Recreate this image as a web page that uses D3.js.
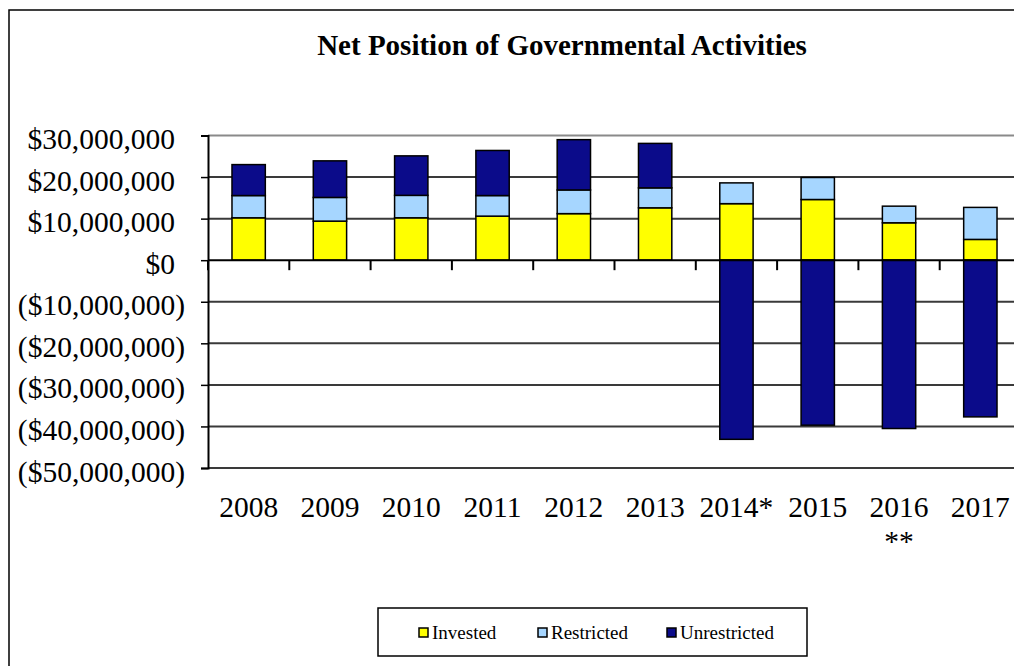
<!DOCTYPE html>
<html>
<head>
<meta charset="utf-8">
<script src="https://cdn.jsdelivr.net/npm/d3@7"></script>
<style>
  html, body { margin: 0; padding: 0; background: #fff; overflow: hidden; }
  svg { display: block; }
</style>
</head>
<body>
<svg id="chart" width="1014" height="666"></svg>
<script>
// ---- data (values in dollars) ----
const categories = ["2008", "2009", "2010", "2011", "2012", "2013", "2014*", "2015", "2016\n**", "2017"];
const invested     = [10.2e6, 9.4e6, 10.2e6, 10.6e6, 11.2e6, 12.6e6, 13.6e6, 14.6e6, 9.0e6, 5.0e6];
const restricted   = [5.35e6, 5.7e6, 5.4e6, 4.95e6, 5.7e6, 4.8e6, 5.0e6, 5.3e6, 4.0e6, 7.7e6];
const unrestricted = [7.45e6, 8.8e6, 9.5e6, 10.85e6, 12.1e6, 10.7e6, -43.1e6, -39.7e6, -40.5e6, -37.7e6];
const seriesNames  = ["Invested", "Restricted", "Unrestricted"];
const yTicks = [30e6, 20e6, 10e6, 0, -10e6, -20e6, -30e6, -40e6, -50e6];
const titleText = "Net Position of Governmental Activities";

const colors = { Invested: "#FFFF00", Restricted: "#A6D6FF", Unrestricted: "#0B0B8A" };
const SERIF = "'Liberation Serif', 'Times New Roman', 'DejaVu Serif', serif";

const rows = categories.map((c, i) => ({
  cat: c, Invested: invested[i], Restricted: restricted[i], Unrestricted: unrestricted[i]
}));

const svg = d3.select("#chart").attr("font-family", SERIF);

// outer border
svg.append("rect").attr("x", 9).attr("y", 10).attr("width", 1100).attr("height", 720)
  .attr("fill", "none").attr("stroke", "#000").attr("stroke-width", 1.5);

// title
svg.append("text").attr("x", 562).attr("y", 55).attr("text-anchor", "middle")
  .attr("font-family", SERIF)
  .attr("font-size", "29px").attr("font-weight", "bold").text(titleText);

const plotLeft = 208, plotRight = 1021, plotTop = 135.5, plotBottom = 468;

const x = d3.scaleBand().domain(categories).range([plotLeft, plotRight])
  .paddingInner(0.59).paddingOuter(0.295);
const y = d3.scaleLinear().domain([-50e6, 30e6]).range([plotBottom, plotTop]);

// gridlines
svg.append("g").selectAll("line").data(yTicks.filter(v => v !== 0)).join("line")
  .attr("x1", plotLeft).attr("x2", 1014)
  .attr("y1", d => y(d)).attr("y2", d => y(d))
  .attr("stroke", d => d === 30e6 ? "#8a8a8a" : "#3a3a3a")
  .attr("stroke-width", 2);

// stacked bars
const stack = d3.stack().keys(seriesNames).offset(d3.stackOffsetDiverging);
const stacked = stack(rows);
svg.append("g").selectAll("g").data(stacked).join("g")
  .attr("fill", d => colors[d.key])
  .selectAll("rect").data(d => d).join("rect")
  .attr("x", d => x(d.data.cat))
  .attr("width", x.bandwidth())
  .attr("y", d => y(Math.max(d[0], d[1])))
  .attr("height", d => Math.abs(y(d[0]) - y(d[1])))
  .attr("stroke", "#000").attr("stroke-width", 1.5);

// y axis
const fmt = d3.format(",");
const yAxis = d3.axisLeft(y).tickValues(yTicks).tickSize(7).tickPadding(0)
  .tickFormat(v => v < 0 ? "($" + fmt(-v) + ")" : "$" + fmt(v));
const yg = svg.append("g").attr("transform", `translate(${plotLeft},0)`).call(yAxis)
  .attr("font-family", SERIF);
yg.select(".domain").attr("stroke", "#000").attr("stroke-width", 2);
yg.selectAll(".tick line").attr("stroke", "#000").attr("stroke-width", 1.5);
yg.selectAll(".tick text")
  .attr("x", d => d < 0 ? -23 : -33)
  .attr("dy", "13px")
  .attr("font-size", "29.5px")
  .attr("font-family", SERIF)
  .attr("fill", "#000");

// zero axis line + ticks at band boundaries
svg.append("line").attr("x1", plotLeft).attr("x2", 1014).attr("y1", y(0)).attr("y2", y(0))
  .attr("stroke", "#000").attr("stroke-width", 2);
const gap = (x.step() - x.bandwidth()) / 2;
svg.append("g").selectAll("line").data(categories).join("line")
  .attr("x1", d => x(d) - gap).attr("x2", d => x(d) - gap)
  .attr("y1", y(0)).attr("y2", y(0) + 10)
  .attr("stroke", "#000").attr("stroke-width", 2);

// x labels
const xl = svg.append("g").selectAll("text").data(categories).join("text")
  .attr("x", d => x(d) + x.bandwidth() / 2)
  .attr("y", 517)
  .attr("text-anchor", "middle")
  .attr("font-family", SERIF)
  .attr("font-size", "29.5px");
xl.each(function(d) {
  const lines = d.split("\n");
  const t = d3.select(this);
  lines.forEach((ln, i) => {
    t.append("tspan").attr("x", x(d) + x.bandwidth() / 2).attr("dy", i === 0 ? 0 : 34).text(ln);
  });
});

// legend
svg.append("rect").attr("x", 378).attr("y", 608).attr("width", 429).attr("height", 48)
  .attr("fill", "#fff").attr("stroke", "#000").attr("stroke-width", 1.5);
const legX = [419, 538, 667];
const lg = svg.append("g").selectAll("g").data(seriesNames).join("g")
  .attr("transform", (d, i) => `translate(${legX[i]},0)`);
lg.append("rect").attr("x", 0).attr("y", 628).attr("width", 9).attr("height", 9)
  .attr("fill", d => colors[d]).attr("stroke", "#000").attr("stroke-width", 1.5);
lg.append("text").attr("x", 13).attr("y", 639)
  .attr("font-family", SERIF).attr("font-size", "19px").text(d => d);
</script>
</body>
</html>
